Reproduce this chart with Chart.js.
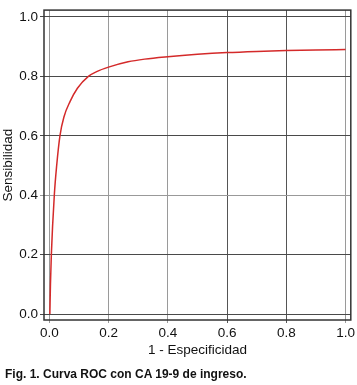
<!DOCTYPE html>
<html>
<head>
<meta charset="utf-8">
<script src="https://cdn.jsdelivr.net/npm/chart.js@4"></script>
<style>
  body { margin: 0; background: #fff; }
  #wrap { position: relative; width: 357px; height: 385px; }
  #caption {
    position: absolute; left: 5px; top: 367px;
    font: bold 12px 'Liberation Sans', Arial, Helvetica, sans-serif;
    line-height: 14px; color: #111; white-space: nowrap;
  }
</style>
</head>
<body>
<div id="wrap">
  <canvas id="roc" width="357" height="385"></canvas>
  <div id="caption">Fig. 1. Curva ROC con CA 19-9 de ingreso.</div>
</div>
<script>
// ROC curve
const fpr = [0.002, 0.004, 0.007, 0.017, 0.025, 0.036, 0.05, 0.07, 0.095, 0.132, 0.16, 0.2, 0.266, 0.322, 0.4, 0.5, 0.6, 0.7, 0.8, 0.9, 1.0];
const sens = [0.0, 0.1, 0.2, 0.4, 0.5, 0.6, 0.665, 0.715, 0.76, 0.8, 0.816, 0.831, 0.849, 0.858, 0.866, 0.874, 0.88, 0.884, 0.887, 0.889, 0.89];
const xTicks = [0, 0.2, 0.4, 0.6, 0.8, 1.0];
const yTicks = [0, 0.2, 0.4, 0.6, 0.8, 1.0];

const FONT = "'Liberation Sans', Arial, Helvetica, sans-serif";

// gridlines in the scan are not all the same shade
const xGridShade = v => (v > 0.5 && v < 0.9) ? '#555' : '#9a9a9a';
const yGridShade = v => (Math.abs(v - 0.4) < 0.01) ? '#999' : '#4a4a4a';

const frame = {
  id: 'frame',
  afterDraw(chart) {
    const { ctx, chartArea: a } = chart;
    ctx.save();
    ctx.strokeStyle = '#333';
    ctx.lineWidth = 1.5;
    ctx.strokeRect(a.left, a.top, a.right - a.left, a.bottom - a.top);
    ctx.restore();
  }
};

new Chart(document.getElementById('roc'), {
  type: 'line',
  data: {
    datasets: [{
      data: fpr.map((x, i) => ({ x: x, y: sens[i] })),
      borderColor: '#d42a2a',
      borderWidth: 1.5,
      pointRadius: 0,
      fill: false,
      cubicInterpolationMode: 'monotone'
    }]
  },
  options: {
    responsive: false,
    animation: false,
    layout: { padding: { top: 6, right: 5, left: 0, bottom: 25 } },
    plugins: { legend: { display: false }, tooltip: { enabled: false } },
    scales: {
      x: {
        type: 'linear',
        min: -0.0178,
        max: 1.0178,
        afterBuildTicks: s => { s.ticks = xTicks.map(v => ({ value: v })); },
        afterFit: s => { s.height = 40; },
        border: { display: false },
        grid: {
          color: c => xGridShade(c.tick.value),
          lineWidth: 1,
          tickLength: 3
        },
        ticks: {
          color: '#111',
          padding: 2,
          maxRotation: 0,
          font: { family: FONT, size: 13.5 },
          callback: v => v.toFixed(1)
        },
        title: {
          display: true,
          text: '1 - Especificidad',
          color: '#111',
          font: { family: FONT, size: 13.5 },
          padding: { top: 0, bottom: 2 }
        }
      },
      y: {
        type: 'linear',
        min: -0.02,
        max: 1.023,
        afterBuildTicks: s => { s.ticks = yTicks.map(v => ({ value: v })); },
        afterFit: s => { s.width = 44; },
        border: { display: false },
        grid: {
          color: c => yGridShade(c.tick.value),
          lineWidth: 1,
          tickLength: 4
        },
        ticks: {
          color: '#111',
          padding: 2,
          font: { family: FONT, size: 13.5 },
          callback: v => v.toFixed(1)
        },
        title: {
          display: true,
          text: 'Sensibilidad',
          color: '#111',
          font: { family: FONT, size: 13.5 },
          padding: { top: 0, bottom: 0 }
        }
      }
    }
  },
  plugins: [frame]
});
</script>
</body>
</html>
